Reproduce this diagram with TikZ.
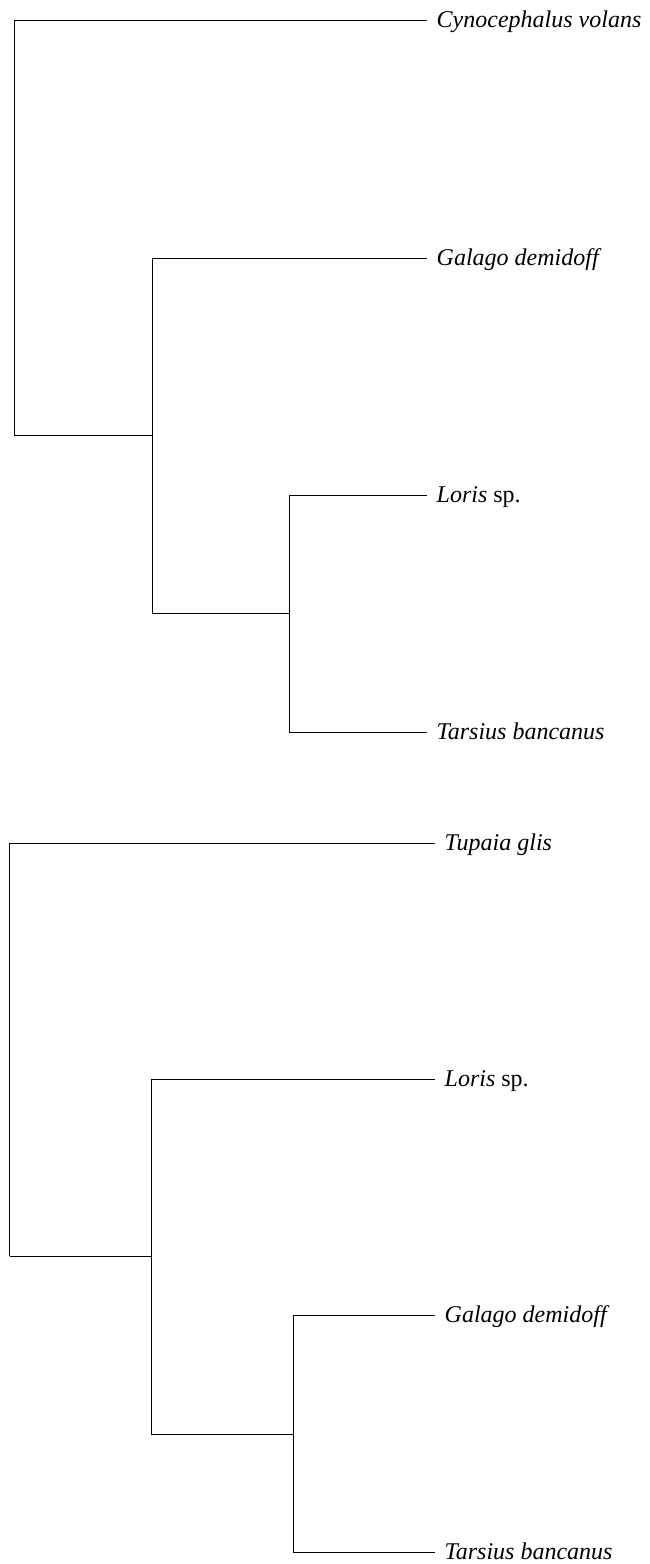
\documentclass[tikz,border=0pt]{standalone}
\usepackage{fontspec}
\setmainfont{Liberation Serif}
\begin{document}
\begin{tikzpicture}[x=1pt,y=-1pt,
  branch/.style={line width=1pt,black},
  taxon/.style={anchor=west,inner xsep=9.5pt,inner ysep=0pt,
    text height=14pt,text depth=0pt,font=\fontsize{24}{28}\selectfont}]
\useasboundingbox (0,0) rectangle (649,1564);

% upper tree
\node[taxon] (cyn)  at (427,20)  {\textit{Cynocephalus volans}};
\node[taxon] (galA) at (427,258) {\textit{Galago demidoff}};
\node[taxon] (lorA) at (427,495) {\textit{Loris} sp.};
\node[taxon] (tarA) at (427,732) {\textit{Tarsius bancanus}};
\coordinate (rA) at (14,435);
\coordinate (iA) at (152,435);
\coordinate (jA) at (289.5,613);
\draw[branch] (rA) |- (cyn.west);
\draw[branch] (rA) -- (iA);
\draw[branch] (iA) |- (galA.west);
\draw[branch] (iA) |- (jA);
\draw[branch] (jA) |- (lorA.west);
\draw[branch] (jA) |- (tarA.west);

% lower tree
\node[taxon] (tup)  at (435,843)  {\textit{Tupaia glis}};
\node[taxon] (lorB) at (435,1079) {\textit{Loris} sp.};
\node[taxon] (galB) at (435,1315) {\textit{Galago demidoff}};
\node[taxon] (tarB) at (435,1552) {\textit{Tarsius bancanus}};
\coordinate (rB) at (9.5,1256);
\coordinate (iB) at (151,1256);
\coordinate (jB) at (293,1434);
\draw[branch] (rB) |- (tup.west);
\draw[branch] (rB) -- (iB);
\draw[branch] (iB) |- (lorB.west);
\draw[branch] (iB) |- (jB);
\draw[branch] (jB) |- (galB.west);
\draw[branch] (jB) |- (tarB.west);
\end{tikzpicture}
\end{document}
